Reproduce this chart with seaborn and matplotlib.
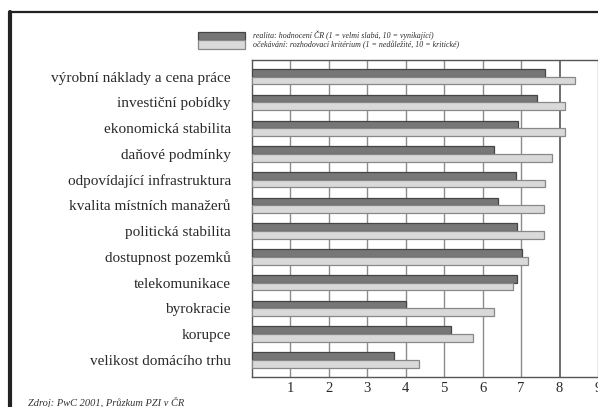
import matplotlib
matplotlib.use("Agg")
import matplotlib.pyplot as plt
import matplotlib.lines as mlines
from matplotlib.patches import Patch
import seaborn as sns
import pandas as pd

categories = [
    "výrobní náklady a cena práce",
    "investiční pobídky",
    "ekonomická stabilita",
    "daňové podmínky",
    "odpovídající infrastruktura",
    "kvalita místních manažerů",
    "politická stabilita",
    "dostupnost pozemků",
    "telekomunikace",
    "byrokracie",
    "korupce",
    "velikost domácího trhu",
]
realita = [7.63, 7.42, 6.93, 6.30, 6.87, 6.40, 6.90, 7.03, 6.90, 4.00, 5.18, 3.71]
ocekavani = [8.41, 8.15, 8.13, 7.81, 7.63, 7.59, 7.59, 7.19, 6.78, 6.29, 5.74, 4.34]
series_labels = [
    "realita: hodnocení ČR (1 = velmi slabá, 10 = vynikající)",
    "očekávání: rozhodovací kritérium (1 = nedůležité, 10 = kritické)",
]
x_ticks = [1, 2, 3, 4, 5, 6, 7, 8, 9]
source = "Zdroj: PwC 2001, Průzkum PZI v ČR"

df = pd.DataFrame({
    "kategorie": categories * 2,
    "hodnota": realita + ocekavani,
    "serie": [series_labels[0]] * len(categories) + [series_labels[1]] * len(categories),
})

sns.set_style("white")
plt.rcParams["font.family"] = ["Liberation Serif", "DejaVu Serif"]

W, H = 598, 407
fig = plt.figure(figsize=(W / 100, H / 100), dpi=100)
ax = fig.add_axes([251.7 / W, 1 - 376.7 / H, 1 - 251.7 / W, (376.7 - 60) / H])

fills = ["#777777", "#d9d9d9"]
edges = ["#454545", "#888888"]
sns.barplot(data=df, y="kategorie", x="hodnota", hue="serie", order=categories,
            hue_order=series_labels, palette=fills, width=0.6, gap=0,
            orient="h", ax=ax, legend=False, zorder=3)
for cont, ec in zip(ax.containers, edges):
    for p in cont:
        p.set_edgecolor(ec)
        p.set_linewidth(0.9)

ax.set_xlim(0, 8.85)
ax.set_ylim(len(categories) - 1 + 0.65, -0.65)
ax.set_xticks(x_ticks)
ax.set_xticklabels([str(t) for t in x_ticks], fontsize=10.5, color="#2a2a2a")
ax.set_xlabel("")
ax.set_ylabel("")
ax.tick_params(axis="x", length=0, pad=4)
ax.tick_params(axis="y", length=0, pad=15, labelsize=11, labelcolor="#2a2a2a")
ax.xaxis.grid(True, color="#8c8c8c", linewidth=1.0, zorder=0)
ax.set_axisbelow(True)
gl = ax.get_xgridlines()
gl[7].set_color("#555555")
gl[7].set_linewidth(1.2)
for s in ["left", "bottom", "top"]:
    ax.spines[s].set_visible(True)
    ax.spines[s].set_color("#555555")
    ax.spines[s].set_linewidth(1.0)
ax.spines["right"].set_visible(False)

handles = [Patch(facecolor=f, edgecolor=e, linewidth=0.9) for f, e in zip(fills, edges)]
fig.legend(handles, series_labels, loc="upper left",
           bbox_to_anchor=(198 / W, 1 - 31 / H), frameon=False,
           borderpad=0, borderaxespad=0, handlelength=5.9, handleheight=1.25,
           labelspacing=0.0, handletextpad=1.0,
           prop={"family": "Liberation Serif", "style": "italic", "size": 5.7},
           labelcolor="#2a2a2a")

# page frame
fig.add_artist(mlines.Line2D([10 / W, 1], [1 - 11.5 / H, 1 - 11.5 / H], color="#222222",
                             linewidth=1.6, transform=fig.transFigure))
fig.add_artist(mlines.Line2D([10 / W, 10 / W], [0, 1 - 11.5 / H], color="#222222",
                             linewidth=3.0, transform=fig.transFigure))

fig.text(28 / W, 1 - 397 / H, source, ha="left", va="top", fontsize=7.5,
         style="italic", color="#333333")

fig.savefig("out.png", dpi=100)
